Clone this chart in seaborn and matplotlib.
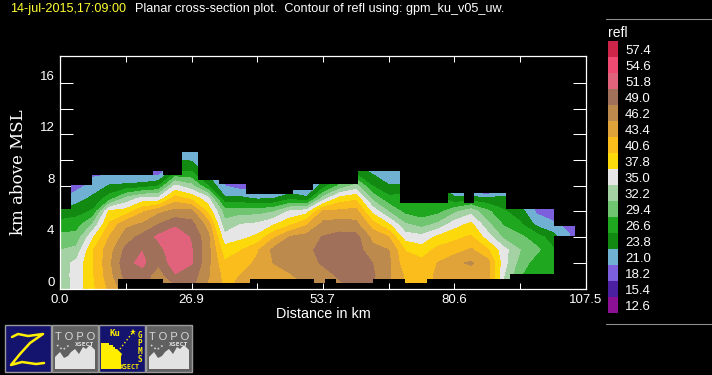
import numpy as np
import matplotlib
matplotlib.use('Agg')
import matplotlib.pyplot as plt
from matplotlib.colors import ListedColormap
from matplotlib.patches import Polygon, Rectangle, PathPatch
from matplotlib.path import Path
import seaborn as sns

# legend
level_labels = [12.6, 15.4, 18.2, 21.0, 23.8, 26.6, 29.4, 32.2, 35.0, 37.8, 40.6, 43.4, 46.2, 49.0, 51.8, 54.6, 57.4]
level_colors = ['#8c1094', '#4a1fa0', '#7b5fdc', '#70b0d2', '#128a12', '#1fa81f', '#70c670', '#a5d2a5', '#e6e6e6',
                '#fcd90b', '#fbbd1c', '#e0a33a', '#bd8a4d', '#a0705a', '#e0627b', '#f04a72', '#cc2549']

x_ticks = [0.0, 26.9, 53.7, 80.6, 107.5]
height_km = list(range(12))
dist_km = [3.36 * i for i in range(33)]

# refl, one list per distance column, height 0..11 km
refl_cols = [
    [33, 33.5, 33.5, 32.2, 30.2, 27.8, 24.5, 21, 20, 20, 20, 20],
    [36, 36, 35.8, 33, 30.5, 28, 25.5, 22.5, 20, 20, 20, 20],
    [40, 40.3, 40.3, 40.5, 37.5, 32.5, 27, 24.5, 22, 20.5, 19, 19],
    [44, 45, 45.5, 45, 43.5, 41, 38.5, 28, 24, 20.5, 20, 20],
    [48, 50, 51, 49.8, 47.5, 45.5, 39, 33, 24.5, 20, 20, 20],
    [50, 50.5, 52.5, 51.7, 50, 46.5, 43, 36, 25, 20, 20, 20],
    [47, 47.5, 49.5, 50.5, 52.5, 49, 45.5, 36, 26.5, 19.5, 18, 18],
    [48, 51.5, 53.5, 54.4, 54, 51.2, 47, 42, 35.5, 26.7, 24, 22],
    [49.5, 50.5, 52, 52, 51.5, 50, 47, 40, 33, 27, 23.5, 21],
    [45.5, 46.5, 47, 47.3, 47, 45, 40, 36, 26.6, 23, 21, 20],
    [43, 42.5, 41, 39, 36, 33, 31, 24.5, 21, 20, 20, 20],
    [44, 43.5, 42, 40.5, 37, 35, 31, 24.5, 19.5, 19, 19, 19],
    [44, 44, 44, 43, 38.5, 35.5, 31, 23.5, 20, 20, 20, 20],
    [44, 44.5, 46.3, 47, 43, 37.5, 32, 23.8, 20, 20, 20, 20],
    [45, 46, 47, 49, 46.5, 40, 35.5, 26, 20.5, 20, 20, 20],
    [46, 47, 47.5, 47.8, 47.3, 43, 36.5, 24.5, 20, 20, 20, 20],
    [46.5, 47.5, 49.5, 50.5, 49.2, 47, 44, 33.5, 25, 22, 20, 20],
    [48, 49.5, 50.5, 51, 50, 47.5, 44, 39, 30, 24, 21, 20],
    [49.5, 50, 50.5, 50.5, 50, 47, 44.5, 40, 33, 26, 22, 20],
    [49, 49.5, 49, 47, 45.5, 42, 37, 31.5, 26.5, 23.5, 21, 20],
    [46.5, 46.5, 46.8, 46.2, 43.4, 38, 32, 27.5, 24, 21.5, 20, 20],
    [43.4, 43, 41.5, 40.5, 36.5, 32.5, 28.5, 28, 24, 22, 20, 20],
    [42, 42, 41.5, 39, 36, 31, 27.7, 27.5, 23, 21, 20, 20],
    [44, 44, 43.5, 41.5, 38.5, 32.8, 28.5, 27, 24, 21, 20, 20],
    [45, 45, 45.8, 42, 40, 36.5, 31.5, 24.5, 20, 20, 20, 20],
    [45, 45, 46.5, 43.8, 41, 38.5, 34, 25, 18, 18, 18, 18],
    [44.5, 44.5, 44.5, 41, 36.5, 33, 30, 24.5, 12, 12, 12, 12],
    [35, 35, 36, 36, 31.5, 29, 27, 24.5, 21, 20, 20, 20],
    [29.5, 29.5, 31, 32.2, 30, 27, 25, 22, 20, 20, 20, 20],
    [28, 28, 28, 30, 28, 23, 20.5, 20, 20, 20, 20, 20],
    [27.5, 27.5, 27.5, 27, 25, 21.5, 19.5, 19, 19, 19, 19, 19],
    [25, 25, 25, 24, 21.2, 20.3, 19, 19, 19, 19, 19, 19],
    [25, 25, 25, 24, 16, 14, 14, 14, 14, 14, 14, 14],
]

# footprint of the data, km
top_edges = [0, 2.25, 6.48, 19.1, 21.1, 24.87, 28.14, 32.5, 38.0, 47.7, 51.7, 60.9, 69.5, 79.2, 82.6, 84.6, 91.2, 101, 105.3]
top_km = [6.2, 8.05, 8.86, 9.17, 8.86, 10.65, 8.45, 8.14, 7.36, 7.67, 8.1, 9.17, 6.64, 7.4, 6.64, 7.4, 6.2, 4.83]
base_edges = [0, 11.9, 21.1, 38.8, 52, 54.2, 56.4, 64, 70.5, 75, 92, 101, 105.3]
base_km = [0, 0.72, 0.44, 0.72, 0.44, 0.72, 0.44, 0.72, 0.44, 0.72, 1.1, 4.05]

W, H = 712, 375
sns.set_theme(style='dark', rc={'figure.facecolor': 'black', 'axes.facecolor': 'black', 'savefig.facecolor': 'black'})
plt.rcParams['font.family'] = ['Liberation Sans', 'DejaVu Sans']


def px_axes(x0, y0, x1, y1):
    return fig.add_axes([x0 / W, 1 - y1 / H, (x1 - x0) / W, (y1 - y0) / H])


fig = plt.figure(figsize=(W / 100, H / 100), dpi=100)

# main panel
ax = px_axes(60, 56, 586, 288.5)
ax.set_facecolor('black')
bounds = level_labels + [60.2]
z = np.array(refl_cols).T
cs = ax.contourf(dist_km, height_km, z, levels=bounds, colors=level_colors, antialiased=False)

verts = []
for i, t in enumerate(top_km):
    verts += [(top_edges[i], t), (top_edges[i + 1], t)]
for i in range(len(base_km) - 1, -1, -1):
    verts += [(base_edges[i + 1], base_km[i]), (base_edges[i], base_km[i])]
clip = PathPatch(Path(verts + [verts[0]]), transform=ax.transData, fc='none', ec='none')
ax.add_patch(clip)
cs.set_clip_path(clip)

ax.set_xlim(0, 107.5)
ax.set_ylim(0, 18.1)
ax.set_xticks(x_ticks)
ax.set_xticks([13.44, 40.3, 67.2, 94.05], minor=True)
ax.set_xticklabels(['%.1f' % v for v in x_ticks], color='white', fontsize=9.5)
ax.set_yticks([0, 4, 8, 12, 16])
ax.set_yticks([2, 6, 10, 14], minor=True)
ax.set_yticklabels(['0', '4', '8', '12', '16'], color='white', fontsize=9.5, va='bottom')
ax.tick_params(axis='x', which='both', direction='in', length=4.5, width=0.75, color='white',
               top=True, bottom=True, pad=4)
ax.tick_params(axis='y', which='both', direction='in', length=9.5, width=0.75, color='white',
               left=True, right=True, pad=4)
for s in ax.spines.values():
    s.set_color('white')
    s.set_linewidth(0.9)
    s.set_visible(True)
ax.grid(False)

# colour legend
leg = px_axes(608, 41, 618, 313)
legend_z = np.arange(len(level_labels))[::-1].reshape(-1, 1)
sns.heatmap(legend_z, ax=leg, cmap=ListedColormap(level_colors), cbar=False, xticklabels=False,
            yticklabels=['%.1f' % v for v in level_labels[::-1]])
leg.yaxis.tick_right()
leg.tick_params(axis='y', length=0, pad=5, labelrotation=0)
for t in leg.get_yticklabels():
    t.set_color('white')
    t.set_fontsize(9.5)

# page furniture in pixel coordinates
page = fig.add_axes([0, 0, 1, 1], facecolor='none')
page.set_xlim(0, W)
page.set_ylim(H, 0)
page.axis('off')
page.text(10, 9, '14-jul-2015,17:09:00', color='#ffff33', fontsize=9.1, va='center')
page.text(135, 9, 'Planar cross-section plot.  Contour of refl using: gpm_ku_v05_uw.', color='white',
          fontsize=9.1, va='center')
page.text(323, 314, 'Distance in km', color='white', fontsize=10.4, ha='center', va='center')
page.text(19, 172, 'km above MSL', color='white', fontsize=12, rotation=90, ha='center', va='center',
          family='DejaVu Serif')
page.text(608, 33, 'refl', color='white', fontsize=10, va='center')
page.plot([606, 712], [19, 19], color='#8c8c8c', lw=0.8)
page.plot([606, 712], [324, 324], color='#8c8c8c', lw=0.8)

icon_left = [5, 52, 99, 146]
icon_fill = ['#14146e', '#606060', '#14146e', '#606060']
for x0, c in zip(icon_left, icon_fill):
    page.add_patch(Rectangle((x0, 325), 46, 47, fc=c, ec='#9a9a9a', lw=1))

# Z
page.plot([12, 18, 28, 43, 30, 20, 11, 22, 36, 44], [337, 334, 336, 334, 343, 354, 365, 362, 364, 363],
          color='#ffee00', lw=1.8, solid_capstyle='round')

# topo icons
ridge_x = [55, 55, 60, 64, 68, 71, 75, 79, 83, 86, 90, 95, 95]
ridge_y = [369, 357, 352, 358, 356, 352, 349, 354, 347, 349, 345, 350, 369]
for dx in (0, 94):
    page.add_patch(Polygon([(a + dx, b) for a, b in zip(ridge_x, ridge_y)], fc='#e2e2e2', ec='none'))
    page.text(75 + dx, 337, 'T O P O', color='#d8d8d8', fontsize=8, ha='center', va='center')
    page.text(85 + dx, 344, 'XSECT', color='#e2e2e2', fontsize=4.6, ha='center', va='center', weight='bold',
              family='DejaVu Sans Mono')
    page.plot([57 + dx, 63 + dx, 66 + dx, 70 + dx], [345, 350, 347, 345], color='#d0d0d0', lw=1.2, ls=':')

# satellite icon
gx, gy = np.meshgrid(np.arange(102, 124, 2), np.arange(342, 370, 2))
keep = (gx - 102) ** 2 / 20.0 ** 2 + (369 - gy) ** 2 / 27.0 ** 2 < 1
page.scatter(gx[keep], gy[keep], s=1.0, marker='s', color='#ffee00', lw=0)
page.add_patch(Polygon([(102, 369), (102, 362), (110, 362), (112, 369)], fc='#ffee00', ec='none'))
page.add_patch(Polygon([(112, 352), (117, 349), (122, 354), (120, 359), (114, 357)], fc='#ffee00', ec='none'))
page.plot([120, 133], [349, 332], color='#ffee00', lw=1, ls=':')
page.plot([133], [332], marker='*', ms=5, color='#ffee00', mew=0)
page.text(115, 334, 'Ku', color='#ffee00', fontsize=6.5, ha='center', va='center', weight='bold',
          family='DejaVu Sans Mono')
for yy, ch in zip([335, 343, 351, 360], 'GPMS'):
    page.text(139.5, yy, ch, color='#ffee00', fontsize=5.5, ha='center', va='center', weight='bold',
              family='DejaVu Sans Mono')
page.text(130, 367, 'XSECT', color='#ffee00', fontsize=4.8, ha='center', va='center', weight='bold',
          family='DejaVu Sans Mono')

fig.savefig('out.png', dpi=100, facecolor='black')
